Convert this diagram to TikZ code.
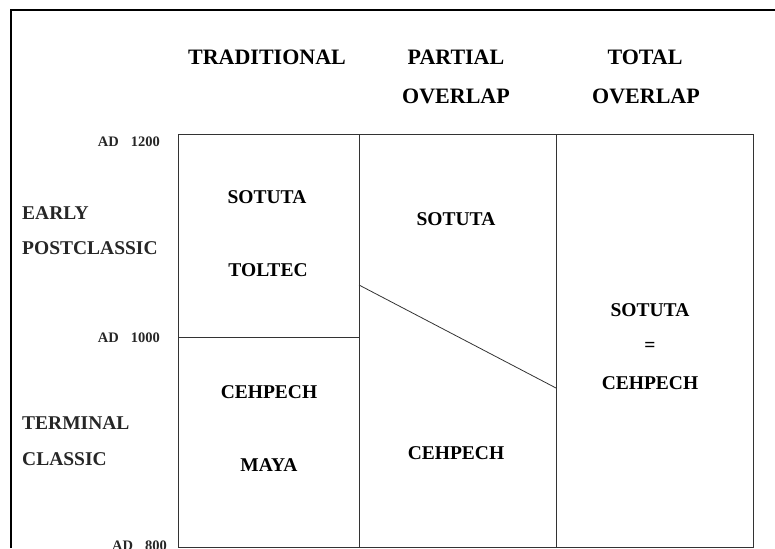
\documentclass[tikz,border=0pt]{standalone}
\usepackage{fontspec}
\setmainfont{Liberation Serif}
\begin{document}
\begin{tikzpicture}[x=1pt,y=-1pt,
  head/.style={font=\fontsize{22}{24}\selectfont\bfseries, inner sep=0pt},
  cell/.style={font=\fontsize{19.5}{22}\selectfont\bfseries, inner sep=0pt},
  side/.style={font=\fontsize{19.5}{22}\selectfont\bfseries, inner sep=0pt, anchor=west, text=black!85},
  date/.style={font=\fontsize{14.5}{16}\selectfont\bfseries, inner sep=0pt, anchor=east, text=black!85},
  grid/.style={draw=black!80, line width=1pt},
  frame/.style={draw=black, line width=2pt}]
\useasboundingbox (0,0) rectangle (775,548);
% outer frame (open at right and bottom)
\draw[frame] (11,548) -- (11,10) -- (775,10);
% headers
\node[head] (hTrad) at (267,57) {TRADITIONAL};
\node[head] (hPart1) at (456,57) {PARTIAL};
\node[head] (hPart2) at (456,96) {OVERLAP};
\node[head] (hTot1) at (645,57) {TOTAL};
\node[head] (hTot2) at (646,96) {OVERLAP};
% table
\draw[grid] (178,135) rectangle (753,547);
\draw[grid] (359,135) -- (359,547);
\draw[grid] (556,135) -- (556,547);
\draw[grid] (178,337) -- (359,337);
\coordinate (dA) at (359,285);
\coordinate (dB) at (556,388);
\draw[draw=black!80, line width=0.8pt] (dA) -- (dB);
% dates
\node[date] (d1200) at (160,142) {AD\hspace{12pt}1200};
\node[date] (d1000) at (160,338) {AD\hspace{12pt}1000};
\node[date] (d800) at (167,546) {AD\hspace{12pt}800};
% periods
\node[side] (early) at (22,213) {EARLY};
\node[side] (post) at (22,248) {POSTCLASSIC};
\node[side] (term) at (22,423) {TERMINAL};
\node[side] (clas) at (22,459) {CLASSIC};
% column 1
\node[cell] (c1a) at (267,197) {SOTUTA};
\node[cell] (c1b) at (268,270) {TOLTEC};
\node[cell] (c1c) at (269,392) {CEHPECH};
\node[cell] (c1d) at (269,465) {MAYA};
% column 2
\node[cell] (c2a) at (456,219) {SOTUTA};
\node[cell] (c2b) at (456,453) {CEHPECH};
% column 3
\node[cell] (c3a) at (650,310) {SOTUTA};
\node[cell] (c3b) at (650,347) {=};
\node[cell] (c3c) at (650,383) {CEHPECH};
\end{tikzpicture}
\end{document}
